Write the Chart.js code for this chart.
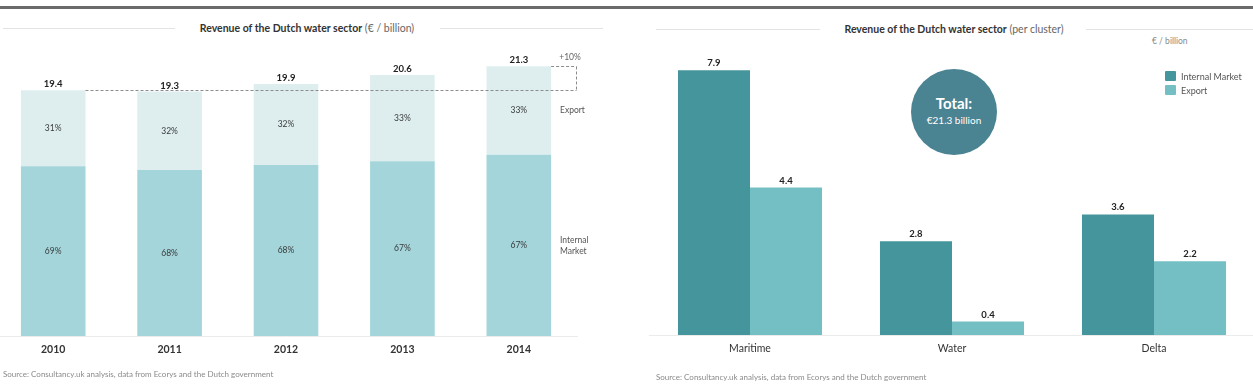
<!DOCTYPE html>
<html>
<head>
<meta charset="utf-8">
<script src="https://cdn.jsdelivr.net/npm/chart.js@4.4.1/dist/chart.umd.min.js"></script>
<style>
  html, body { margin: 0; padding: 0; background: #fff; }
  body { width: 1253px; height: 392px; overflow: hidden; position: relative; font-family: Lato, 'Open Sans', sans-serif; }
  canvas { position: absolute; top: 0; }
  .topline { position: absolute; left: 0; top: 6px; width: 1253px; height: 3px; background: #6b6b6b; }
  .rule { position: absolute; height: 1px; background: #e3e3e3; }
  .title { position: absolute; font-size: 10.5px; line-height: 13px; color: #666; white-space: nowrap; transform: translateX(-50%); }
  .title b { color: #333; }
  .source { position: absolute; font-size: 8px; line-height: 10px; color: #8a8a8a; white-space: nowrap; }
  .unit { position: absolute; font-size: 8.5px; color: #8a8a8a; white-space: nowrap; }
  .legend { position: absolute; left: 1165px; top: 71px; font-size: 9px; color: #555; }
  .legend div { height: 14px; line-height: 11px; white-space: nowrap; }
  .legend span { display: inline-block; width: 11px; height: 10px; margin-right: 5px; vertical-align: top; border-radius: 1px; }
  .total { position: absolute; left: 911px; top: 69px; width: 86px; height: 86px; border-radius: 50%; background: #4a8391; color: #fff; text-align: center; }
  .total .big { font-weight: bold; font-size: 15px; margin-top: 25px; line-height: 18px; }
  .total .small { font-size: 10px; line-height: 12px; margin-top: 2px; }
</style>
</head>
<body>
<div class="topline"></div>

<div class="rule" style="left:3px; top:28px; width:172px;"></div>
<div class="rule" style="left:440px; top:28px; width:163px;"></div>
<div class="title" style="left:307px; top:22px;"><b>Revenue of the Dutch water sector</b> (€ / billion)</div>

<div class="rule" style="left:656px; top:29px; width:164px;"></div>
<div class="rule" style="left:1086px; top:29px; width:167px;"></div>
<div class="title" style="left:954px; top:23px;"><b>Revenue of the Dutch water sector</b> (per cluster)</div>
<div class="unit" style="left:1152px; top:36px;">€ / billion</div>

<canvas id="yearChart" width="615" height="392" style="left:-5px;"></canvas>
<canvas id="clusterChart" width="630" height="392" style="left:630px;"></canvas>

<div class="total"><div class="big">Total:</div><div class="small">€21.3 billion</div></div>

<div class="legend">
  <div><span style="background:#45959c"></span>Internal Market</div>
  <div><span style="background:#74bfc3"></span>Export</div>
</div>

<div class="source" style="left:3px; top:369px;">Source: Consultancy.uk analysis, data from Ecorys and the Dutch government</div>
<div class="source" style="left:656px; top:372px;">Source: Consultancy.uk analysis, data from Ecorys and the Dutch government</div>

<script>
// left chart: revenue per year
const years = ['2010', '2011', '2012', '2013', '2014'];
const totals = [19.4, 19.3, 19.9, 20.6, 21.3];
const internalValues = [13.4, 13.1, 13.5, 13.8, 14.3];
const exportValues = [6.0, 6.2, 6.4, 6.8, 7.0];
const internalShare = ['69%', '68%', '68%', '67%', '67%'];
const exportShare = ['31%', '32%', '32%', '33%', '33%'];
const growthLabel = '+10%';

// right chart: revenue per cluster
const clusters = ['Maritime', 'Water', 'Delta'];
const clusterInternal = [7.9, 2.8, 3.6];
const clusterExport = [4.4, 0.4, 2.2];

const yearLabels = {
  id: 'yearLabels',
  afterDatasetsDraw(chart) {
    const ctx = chart.ctx;
    const area = chart.chartArea;
    const y = chart.scales.y;
    const inner = chart.getDatasetMeta(0).data;
    const outer = chart.getDatasetMeta(1).data;
    ctx.save();
    ctx.textAlign = 'center';
    ctx.textBaseline = 'middle';
    inner.forEach((bar, i) => {
      const top = outer[i];
      ctx.font = '8.5px Lato';
      ctx.fillStyle = '#3a3a3a';
      ctx.fillText(internalShare[i], bar.x, (bar.y + bar.base) / 2);
      ctx.fillText(exportShare[i], top.x, (top.y + top.base) / 2);
      ctx.font = 'bold 9.5px Lato';
      ctx.fillStyle = '#222';
      ctx.fillText(totals[i].toFixed(1), top.x, top.y - 6);
    });

    // dashed growth marker from the 2010 level up to 2014
    const first = outer[0];
    const last = outer[outer.length - 1];
    const y0 = Math.round(y.getPixelForValue(totals[0])) + 0.5;
    const y1 = Math.round(y.getPixelForValue(totals[totals.length - 1])) + 0.5;
    const right = area.right - 0.5;
    ctx.strokeStyle = '#8c8c8c';
    ctx.lineWidth = 1;
    ctx.setLineDash([3, 2]);
    ctx.beginPath();
    ctx.moveTo(first.x + first.width / 2, y0);
    ctx.lineTo(right, y0);
    ctx.moveTo(last.x + last.width / 2, y1);
    ctx.lineTo(right, y1);
    ctx.moveTo(right, y1);
    ctx.lineTo(right, y0);
    ctx.stroke();
    ctx.setLineDash([]);

    ctx.font = '8.5px Lato';
    ctx.fillStyle = '#666';
    ctx.fillText(growthLabel, area.right - 7, y1 - 9);

    const lastIn = inner[inner.length - 1];
    ctx.textAlign = 'left';
    ctx.fillStyle = '#555';
    ctx.font = '8.5px Lato';
    ctx.fillText('Export', area.right - 17, (last.y + last.base) / 2);
    const mid = (lastIn.y + lastIn.base) / 2;
    ctx.fillText('Internal', area.right - 17, mid - 5);
    ctx.fillText('Market', area.right - 17, mid + 6);
    ctx.restore();
  }
};

const clusterLabels = {
  id: 'clusterLabels',
  afterDatasetsDraw(chart) {
    const ctx = chart.ctx;
    ctx.save();
    ctx.textAlign = 'center';
    ctx.textBaseline = 'middle';
    ctx.font = 'bold 9.5px Lato';
    ctx.fillStyle = '#222';
    chart.data.datasets.forEach((ds, d) => {
      chart.getDatasetMeta(d).data.forEach((bar, i) => {
        ctx.fillText(ds.data[i].toFixed(1), bar.x, bar.y - 7);
      });
    });
    ctx.restore();
  }
};

new Chart(document.getElementById('yearChart'), {
  type: 'bar',
  data: {
    labels: years,
    datasets: [{
      label: 'Internal Market',
      data: internalValues,
      backgroundColor: '#a3d5da'
    }, {
      label: 'Export',
      data: exportValues,
      backgroundColor: '#deeeef'
    }]
  },
  options: {
    responsive: false,
    animation: false,
    layout: { padding: { top: 32, right: 33, left: 0, bottom: 0 } },
    datasets: { bar: { categoryPercentage: 1, barPercentage: 0.555 } },
    plugins: { legend: { display: false }, tooltip: { enabled: false } },
    scales: {
      x: {
        stacked: true,
        grid: { display: false, drawTicks: false },
        border: { color: '#ebebeb' },
        ticks: { padding: 7, color: '#333', font: { family: 'Lato', size: 10.5, weight: 'bold' } },
        afterFit: (s) => { s.height = 56; }
      },
      y: { stacked: true, display: false, min: 0, max: 24 }
    }
  },
  plugins: [yearLabels]
});

new Chart(document.getElementById('clusterChart'), {
  type: 'bar',
  data: {
    labels: clusters,
    datasets: [{
      label: 'Internal Market',
      data: clusterInternal,
      backgroundColor: '#45959c'
    }, {
      label: 'Export',
      data: clusterExport,
      backgroundColor: '#74bfc3'
    }]
  },
  options: {
    responsive: false,
    animation: false,
    layout: { padding: { top: 33.5, right: 5, left: 19, bottom: 0 } },
    datasets: { bar: { categoryPercentage: 0.713, barPercentage: 1 } },
    plugins: { legend: { display: false }, tooltip: { enabled: false } },
    scales: {
      x: {
        grid: { display: false, drawTicks: false },
        border: { color: '#ebebeb' },
        ticks: { padding: 7, color: '#333', font: { family: 'Lato', size: 10.5 } },
        afterFit: (s) => { s.height = 57; }
      },
      y: { display: false, min: 0, max: 9 }
    }
  },
  plugins: [clusterLabels]
});
</script>
</body>
</html>
